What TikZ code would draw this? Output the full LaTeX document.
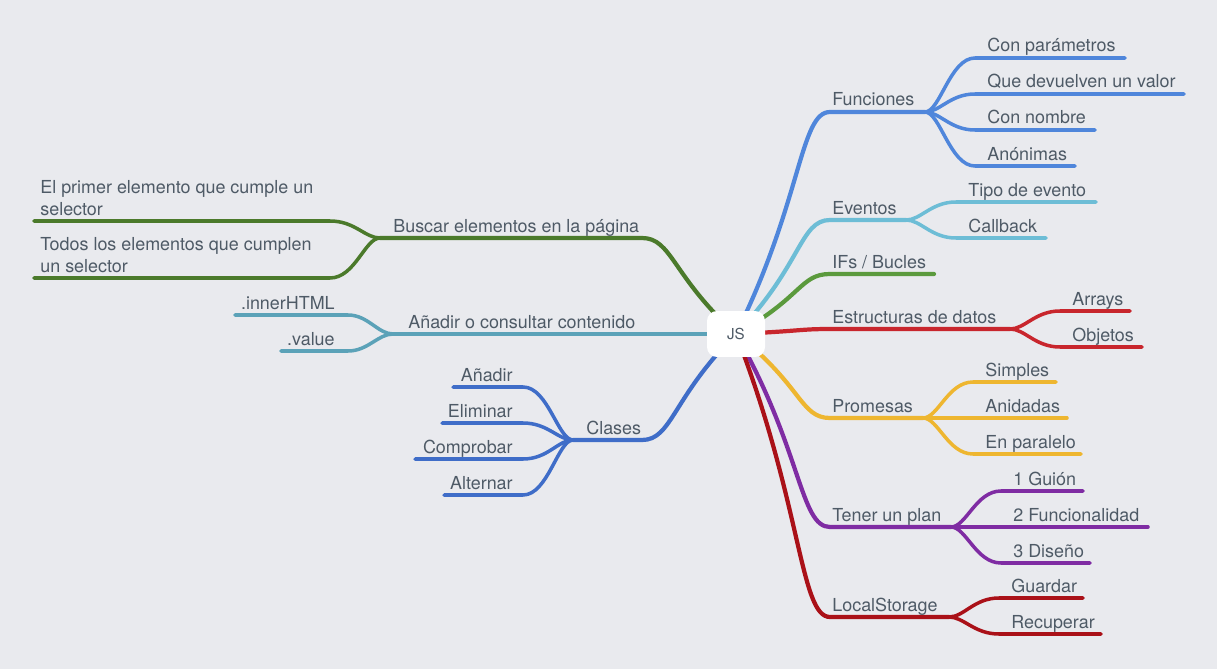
\documentclass[tikz,border=0pt]{standalone}
\usepackage{fontspec}
\setmainfont{TeX Gyre Heros}

\definecolor{bg}{HTML}{E9EAEE}
\definecolor{ink}{HTML}{4E5A66}
\definecolor{cfun}{HTML}{4F86DB}
\definecolor{ceve}{HTML}{6DBDD6}
\definecolor{cifs}{HTML}{5B9A3D}
\definecolor{cest}{HTML}{C8262D}
\definecolor{cpro}{HTML}{EEB630}
\definecolor{cplan}{HTML}{7F2CA3}
\definecolor{cloc}{HTML}{AA1118}
\definecolor{cbus}{HTML}{4B7A2B}
\definecolor{cana}{HTML}{5BA2B8}
\definecolor{ccla}{HTML}{3F6DC8}

\tikzset{
    branch/.style={line width=2.4pt, line cap=round},
    twig/.style={line width=2pt, line cap=round},
    lbl/.style={text=ink, font=\fontsize{10.2}{12.5}\selectfont, inner sep=0pt},
    jsbox/.style={fill=white, rounded corners=0.2cm, minimum width=1.16cm,
        minimum height=0.92cm, text=ink, font=\fontsize{8.6}{10}\selectfont},
}

\begin{document}
\begin{tikzpicture}[x=0.02cm, y=-0.02cm]
\fill[bg] (0,0) rectangle (1217,669);
\useasboundingbox (0,0) rectangle (1217,669);

\coordinate (js) at (736,334);

% right side
\foreach \nm/\y/\sx/\col/\txt in {fun/112/925/cfun/Funciones, eve/220/906/ceve/Eventos,
    ifs/274/934/cifs/{IFs / Bucles}, est/329/1010/cest/Estructuras de datos,
    pro/418/923/cpro/Promesas, plan/527/951/cplan/Tener un plan,
    loc/617/949/cloc/LocalStorage}
{
    \coordinate (\nm) at (\sx,\y);
    \draw[branch, \col] (js) .. controls (802,{334+0.6*(\y-334)}) and (800,\y) .. (830,\y) -- (\nm);
    \node[lbl, anchor=base west] (\nm-lbl) at (832,{\y-6}) {\txt};
}

\foreach \cy/\xe/\txt [count=\i] in {58/1125/Con parámetros, 94/1184/Que devuelven un valor,
    130/1095/Con nombre, 166/1075/Anónimas}
{
    \coordinate (fun\i) at (\xe,\cy);
    \draw[twig, cfun] (fun) .. controls (940,112) and (950,\cy) .. (975,\cy) -- (fun\i);
    \node[lbl, anchor=base west] (fun\i-lbl) at (987,{\cy-6}) {\txt};
}

\foreach \cy/\xe/\txt [count=\i] in {202/1096/Tipo de evento, 238/1046/Callback}
{
    \coordinate (eve\i) at (\xe,\cy);
    \draw[twig, ceve] (eve) .. controls (921,220) and (931,\cy) .. (956,\cy) -- (eve\i);
    \node[lbl, anchor=base west] (eve\i-lbl) at (968,{\cy-6}) {\txt};
}

\foreach \cy/\xe/\txt [count=\i] in {311/1130/Arrays, 347/1142/Objetos}
{
    \coordinate (est\i) at (\xe,\cy);
    \draw[twig, cest] (est) .. controls (1025,329) and (1035,\cy) .. (1060,\cy) -- (est\i);
    \node[lbl, anchor=base west] (est\i-lbl) at (1072,{\cy-6}) {\txt};
}

\foreach \cy/\xe/\txt [count=\i] in {382/1056/Simples, 418/1067/Anidadas, 454/1081/En paralelo}
{
    \coordinate (pro\i) at (\xe,\cy);
    \draw[twig, cpro] (pro) .. controls (938,418) and (948,\cy) .. (973,\cy) -- (pro\i);
    \node[lbl, anchor=base west] (pro\i-lbl) at (985,{\cy-6}) {\txt};
}

\foreach \cy/\xe/\txt [count=\i] in {491/1083/1 Guión, 527/1148/2 Funcionalidad, 563/1090/3 Diseño}
{
    \coordinate (plan\i) at (\xe,\cy);
    \draw[twig, cplan] (plan) .. controls (966,527) and (976,\cy) .. (1001,\cy) -- (plan\i);
    \node[lbl, anchor=base west] (plan\i-lbl) at (1013,{\cy-6}) {\txt};
}

\foreach \cy/\xe/\txt [count=\i] in {598/1083/Guardar, 634/1101/Recuperar}
{
    \coordinate (loc\i) at (\xe,\cy);
    \draw[twig, cloc] (loc) .. controls (964,617) and (974,\cy) .. (999,\cy) -- (loc\i);
    \node[lbl, anchor=base west] (loc\i-lbl) at (1011,{\cy-6}) {\txt};
}

% left side
\coordinate (bus) at (380,238);
\coordinate (ana) at (393,334);
\coordinate (cla) at (573,440);

\draw[branch, cbus] (js) .. controls (672,{334+0.6*(238-334)}) and (672,238) .. (642,238) -- (bus);
\draw[branch, cana] (js) -- (ana);
\draw[branch, ccla] (js) .. controls (672,{334+0.6*(440-334)}) and (672,440) .. (642,440) -- (cla);

\node[lbl, anchor=base west] (bus-lbl) at (393,232) {Buscar elementos en la página};
\node[lbl, anchor=base west] (ana-lbl) at (408,328) {Añadir o consultar contenido};
\node[lbl, anchor=base west] (cla-lbl) at (586,434) {Clases};

\coordinate (bus1) at (34,221);
\coordinate (bus2) at (34,278);
\draw[twig, cbus] (bus) .. controls (365,238) and (355,221) .. (330,221) -- (bus1);
\draw[twig, cbus] (bus) .. controls (365,238) and (355,278) .. (330,278) -- (bus2);
\node[lbl, anchor=base west, align=left] (bus1-lbl) at (40,215) {El primer elemento que cumple un\\selector};
\node[lbl, anchor=base west, align=left] (bus2-lbl) at (40,272) {Todos los elementos que cumplen\\un selector};

\foreach \cy/\xe/\txt [count=\i] in {315/235/.innerHTML, 351/281/.value}
{
    \coordinate (ana\i) at (\xe,\cy);
    \draw[twig, cana] (ana) .. controls (378,334) and (368,\cy) .. (348,\cy) -- (ana\i);
    \node[lbl, anchor=base east] (ana\i-lbl) at (335,{\cy-6}) {\txt};
}

\foreach \cy/\xe/\txt [count=\i] in {387/453/Añadir, 423/442/Eliminar, 459/415/Comprobar, 495/444/Alternar}
{
    \coordinate (cla\i) at (\xe,\cy);
    \draw[twig, ccla] (cla) .. controls (558,440) and (548,\cy) .. (523,\cy) -- (cla\i);
    \node[lbl, anchor=base east] (cla\i-lbl) at (513,{\cy-6}) {\txt};
}

\node[jsbox] (jsnode) at (js) {JS};
\end{tikzpicture}
\end{document}
